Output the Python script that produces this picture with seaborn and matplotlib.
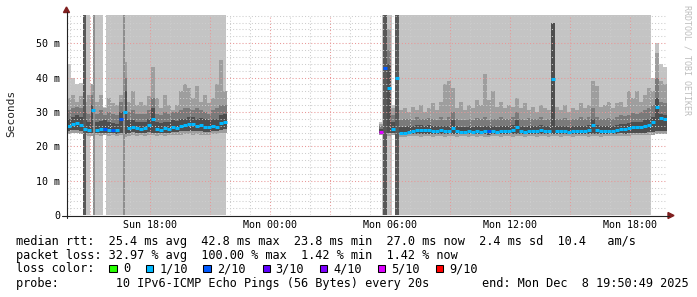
import matplotlib
matplotlib.use("Agg")
import numpy as np
import pandas as pd
import matplotlib.pyplot as plt
import matplotlib.dates as mdates
from matplotlib.ticker import MultipleLocator, FuncFormatter
from matplotlib.patches import Rectangle, Polygon
from matplotlib.lines import Line2D
import seaborn as sns

# ------------------------------------------------------------------ data
VIEW_START = "2025-12-07 13:50:49"
VIEW_END = "2025-12-08 19:50:49"
BIN = "12min"
Y_MAX = 58.2  # ms

LOSS_LABELS = ["0", "1/10", "2/10", "3/10", "4/10", "5/10", "9/10"]
LOSS_COLORS = ["#26ff00", "#00b8ff", "#0059ff", "#5e00ff", "#7e00ff", "#dd00ff", "#ff0000"]

# left block of data (Sun afternoon/evening)
LEFT_START = "2025-12-07 13:50:49"
left_median = [25.8, 26.5, 26.8, 26.2, 25.0, 24.8, 30.5, 24.8, 24.9, 25.0,
               24.8, 24.7, 24.6, 28.0, 30.0, 25.3, 25.5, 25.2, 25.0, 25.2,
               26.2, 28.0, 25.0, 24.8, 25.2, 25.0, 25.6, 25.4, 25.8, 26.2,
               26.4, 26.5, 26.0, 26.3, 25.7, 25.5, 25.9, 25.6, 26.8, 27.0]
left_loss = [1, 1, 1, 1, 1, 1, 1, 1, 1, 2,
             1, 2, 1, 2, 1, 1, 1, 1, 1, 1,
             1, 1, 1, 1, 1, 1, 1, 1, 1, 1,
             1, 1, 1, 1, 1, 1, 1, 1, 1, 1]
left_lo = [23.6, 23.8, 23.8, 23.6, 23.2, 23.0, 23.0, 23.2, 23.0, 23.2,
           23.0, 23.2, 23.0, 23.3, 22.8, 23.0, 23.4, 23.0, 23.2, 23.0,
           23.4, 23.2, 23.0, 23.2, 23.0, 23.3, 23.4, 23.2, 23.4, 23.5,
           23.6, 23.4, 23.6, 23.4, 23.2, 23.4, 23.6, 23.5, 23.8, 23.8]
left_dlo = [24.5, 24.8, 24.8, 24.5, 24.0, 23.8, 23.8, 24.0, 23.9, 24.0,
            23.8, 23.9, 23.7, 24.0, 23.6, 24.0, 24.1, 23.9, 23.9, 23.8,
            24.2, 24.0, 23.8, 23.9, 24.0, 24.0, 24.2, 24.1, 24.3, 24.4,
            24.5, 24.5, 24.4, 24.4, 24.2, 24.2, 24.4, 24.3, 24.8, 24.9]
left_dark = [28.0, 28.5, 29.0, 28.5, 27.5, 27.0, 32.0, 27.0, 27.3, 27.5,
             27.0, 26.8, 26.5, 30.0, 36.0, 27.5, 27.5, 27.0, 27.0, 27.0,
             28.0, 31.0, 27.0, 26.8, 27.0, 27.0, 27.5, 27.3, 27.8, 28.0,
             28.5, 28.5, 28.0, 28.3, 27.8, 27.5, 27.8, 27.8, 29.0, 29.5]
left_mid2 = [30.5, 31.0, 31.5, 31.0, 30.0, 29.5, 35.0, 29.5, 30.5, 29.0,
             30.0, 29.5, 29.0, 33.0, 40.0, 30.0, 30.5, 29.5, 29.5, 29.5,
             30.5, 34.0, 29.5, 29.0, 30.0, 29.5, 30.0, 30.0, 30.5, 31.0,
             31.0, 30.5, 31.0, 30.5, 30.0, 29.5, 30.5, 31.0, 32.0, 32.0]
left_mid = [34.0, 35.0, 33.0, 34.5, 33.0, 35.0, 38.0, 33.0, 35.0, 31.0,
            34.0, 32.5, 32.0, 35.0, 44.5, 33.0, 36.0, 32.0, 33.0, 32.0,
            34.5, 43.0, 34.0, 31.0, 35.0, 32.0, 30.5, 32.0, 36.0, 38.0,
            37.0, 34.0, 37.5, 33.0, 35.0, 32.5, 34.0, 38.0, 45.0, 36.0]
# outermost smoke band; None where a lost ping pushes it to the top
left_top = [44.0, 40.0, 38.0, 38.5, None, 38.0, 38.0, None, None, 31.5] + [None] * 30

# right block of data (Mon morning to evening)
RIGHT_START = "2025-12-08 05:26:49"
right_median = [24.1, 42.8, 37.0, 25.0, 40.0, 24.0, 24.0, 24.1, 24.3, 24.8,
                24.7, 24.6, 24.7, 24.5, 24.4, 24.6, 24.3, 24.5, 25.4, 24.3,
                24.2, 24.1, 24.4, 24.2, 24.3, 24.1, 24.5, 24.3, 24.4, 24.2,
                24.5, 24.3, 24.4, 24.6, 25.6, 24.4, 24.2, 24.5, 24.3, 24.4,
                24.6, 24.3, 24.4, 39.6, 24.4, 24.3, 24.5, 24.2, 24.4, 24.3,
                24.5, 24.4, 24.6, 26.2, 24.6, 24.4, 24.3, 24.5, 24.4, 24.8,
                25.0, 24.9, 25.2, 25.6, 25.5, 25.7, 26.0, 26.2, 27.0, 31.5,
                28.2, 27.9]
right_loss = [5, 2, 1, 1, 1, 1, 1, 1, 1, 1,
              1, 1, 1, 1, 1, 1, 1, 1, 1, 1,
              1, 1, 1, 1, 1, 1, 1, 2, 1, 1,
              1, 1, 1, 1, 1, 1, 1, 1, 1, 1,
              1, 1, 1, 1, 1, 1, 1, 1, 1, 1,
              1, 1, 1, 1, 1, 1, 1, 1, 1, 1,
              1, 1, 1, 1, 1, 1, 1, 1, 1, 1,
              1, 1]
right_lo = [23.4, 23.0, 23.0, 23.2, 23.0, 22.8, 22.8, 23.0, 22.9, 23.0,
            22.8, 23.0, 22.9, 22.8, 23.0, 22.9, 22.8, 23.0, 22.9, 22.8,
            23.0, 22.9, 22.7, 23.0, 22.8, 22.9, 22.8, 22.6, 22.9, 23.0,
            22.8, 22.9, 23.0, 22.8, 23.0, 22.9, 22.8, 23.0, 22.9, 22.8,
            23.0, 22.9, 22.8, 22.9, 23.0, 22.8, 22.9, 23.0, 22.8, 22.9,
            23.0, 22.9, 22.8, 23.0, 22.9, 22.8, 23.0, 22.9, 23.0, 23.0,
            23.1, 23.0, 23.1, 23.2, 23.2, 23.3, 23.3, 23.4, 23.4, 23.6,
            23.6, 23.5]
right_dlo = [23.8, 23.8, 23.8, 23.8, 23.8, 23.5, 23.5, 23.6, 23.6, 23.7,
             23.6, 23.7, 23.6, 23.6, 23.7, 23.6, 23.5, 23.7, 23.7, 23.5,
             23.6, 23.6, 23.5, 23.6, 23.5, 23.6, 23.6, 23.4, 23.6, 23.6,
             23.5, 23.6, 23.6, 23.5, 23.7, 23.6, 23.5, 23.6, 23.6, 23.5,
             23.6, 23.6, 23.5, 23.6, 23.6, 23.5, 23.6, 23.6, 23.5, 23.6,
             23.6, 23.6, 23.5, 23.7, 23.6, 23.5, 23.6, 23.6, 23.6, 23.7,
             23.8, 23.7, 23.8, 23.9, 23.9, 24.0, 24.0, 24.1, 24.2, 24.4,
             24.5, 24.4]
right_dark = [25.0, 50.0, 44.0, 27.0, 50.0, 25.6, 25.6, 25.8, 25.8, 26.3,
              26.2, 26.0, 26.2, 26.0, 25.8, 26.0, 25.8, 26.0, 27.5, 25.8,
              25.7, 25.6, 25.9, 25.7, 25.8, 25.6, 26.0, 25.8, 25.9, 25.7,
              26.0, 25.8, 25.9, 26.1, 27.5, 25.9, 25.7, 26.0, 25.8, 25.9,
              26.1, 25.8, 25.9, 56.0, 25.9, 25.8, 26.0, 25.7, 25.9, 25.8,
              26.0, 25.9, 26.1, 28.0, 26.1, 25.9, 25.8, 26.0, 25.9, 26.3,
              26.5, 26.4, 26.7, 27.1, 27.0, 27.2, 27.5, 27.8, 28.5, 34.0,
              29.5, 29.2]
right_mid2 = [26.0, 52.0, 48.0, 29.0, 52.0, 27.5, 27.8, 28.0, 27.5, 28.5,
              28.0, 27.8, 28.3, 28.0, 27.5, 28.5, 27.6, 28.5, 30.0, 27.8,
              27.5, 27.6, 28.0, 27.5, 28.2, 27.8, 28.5, 27.6, 28.0, 27.8,
              28.6, 28.0, 28.0, 28.5, 30.0, 28.0, 27.6, 28.2, 27.8, 28.0,
              28.4, 27.6, 28.0, 56.0, 28.0, 27.8, 28.3, 27.6, 28.0, 27.8,
              28.5, 28.0, 28.6, 31.0, 28.4, 28.0, 27.8, 28.3, 28.0, 28.6,
              29.0, 28.8, 29.2, 29.8, 29.5, 30.0, 30.5, 31.0, 32.0, 40.0,
              33.0, 32.5]
right_mid = [26.5, 55.0, 54.0, 31.0, 55.0, 30.5, 31.0, 30.0, 31.5, 30.5,
             32.0, 30.0, 31.0, 32.5, 30.5, 33.0, 38.0, 39.0, 37.0, 31.0,
             33.0, 30.5, 32.0, 31.0, 33.5, 32.0, 41.0, 33.5, 36.0, 31.5,
             33.0, 31.0, 32.0, 31.5, 34.0, 31.0, 32.5, 30.5, 31.5, 30.0,
             32.0, 31.0, 30.5, 56.0, 31.5, 30.5, 32.0, 30.0, 31.0, 30.5,
             32.5, 31.0, 32.0, 39.0, 37.5, 31.5, 32.0, 33.0, 31.0, 32.5,
             33.0, 31.5, 36.0, 34.0, 36.0, 33.0, 35.0, 37.0, 36.0, 47.0,
             39.0, 38.0]
right_top = [27.0, None, None, 32.0, None] + [None] * 63 + [40.0, 50.0, 44.0, 43.0]

# periods where lost pings push the smoke to the top of the graph
LOSS_SPANS = [
    ("2025-12-07 14:38:49", "2025-12-07 14:47:49", "dark"),
    ("2025-12-07 14:47:49", "2025-12-07 14:59:49", "light"),
    ("2025-12-07 15:08:49", "2025-12-07 15:14:49", "mid"),
    ("2025-12-07 15:14:49", "2025-12-07 15:38:49", "light"),
    ("2025-12-07 15:47:49", "2025-12-07 21:47:49", "light"),
    ("2025-12-07 16:38:49", "2025-12-07 16:44:49", "mid"),
    ("2025-12-08 05:35:49", "2025-12-08 05:38:49", "light"),
    ("2025-12-08 05:38:49", "2025-12-08 05:50:49", "dark"),
    ("2025-12-08 05:50:49", "2025-12-08 06:05:49", "light"),
    ("2025-12-08 06:14:49", "2025-12-08 06:26:49", "dark"),
    ("2025-12-08 06:26:49", "2025-12-08 19:02:49", "light"),
]

STAT_LINE_1 = "median rtt:  25.4 ms avg  42.8 ms max  23.8 ms min  27.0 ms now  2.4 ms sd  10.4   am/s"
STAT_LINE_2 = "packet loss: 32.97 % avg  100.00 % max  1.42 % min  1.42 % now"
LOSS_TITLE = "loss color:"
PROBE_LINE = "probe:        10 IPv6-ICMP Echo Pings (56 Bytes) every 20s"
END_LINE = "end: Mon Dec  8 19:50:49 2025"
Y_LABEL = "Seconds"
WATERMARK = "RRDTOOL / TOBI OETIKER"

# ------------------------------------------------------------------ style
W, H = 697, 297
SHADE = {"light": "#c4c4c4", "mid": "#8e8e8e", "dark": "#585858"}
C_TOP, C_MID, C_MID2, C_DARK = "#c4c4c4", "#9e9e9e", "#7a7a7a", "#4e4e4e"
MGRID, GRID = "#e89898", "#cdcdcd"

sns.set_theme(style="white")
plt.rcParams["font.family"] = ["DejaVu Sans Mono", "DejaVu Sans"]

fig = plt.figure(figsize=(W / 100, H / 100), dpi=100)
fig.patch.set_facecolor("white")
ax = fig.add_axes([67 / W, (H - 215) / H, 600 / W, 200 / H])
ax.set_facecolor("white")

for s, e, k in LOSS_SPANS:
    ax.axvspan(pd.Timestamp(s), pd.Timestamp(e), color=SHADE[k], lw=0,
               zorder=0.6 if k == "light" else 1.6)


def stepped(edges, vals):
    x = np.column_stack([edges[:-1], edges[1:]]).ravel()
    y = np.repeat(np.array([np.nan if v is None else v for v in vals], dtype=float), 2)
    return x, y


frames = []
for start, lo, dlo, dark, mid2, mid, top, med, loss in [
    (LEFT_START, left_lo, left_dlo, left_dark, left_mid2, left_mid, left_top, left_median, left_loss),
    (RIGHT_START, right_lo, right_dlo, right_dark, right_mid2, right_mid, right_top, right_median, right_loss),
]:
    n = len(med)
    edges = pd.date_range(start, periods=n + 1, freq=BIN).values
    x, ylo = stepped(edges, lo)
    _, ydlo = stepped(edges, dlo)
    for arr, col, z in [(top, C_TOP, 1.0), (mid, C_MID, 1.1)]:
        _, yy = stepped(edges, arr)
        ax.fill_between(x, ylo, yy, color=col, lw=0, zorder=z)
    for arr, col, z in [(mid2, C_MID2, 1.2), (dark, C_DARK, 1.3)]:
        _, yy = stepped(edges, arr)
        ax.fill_between(x, ydlo, yy, color=col, lw=0, zorder=z)
    centers = pd.date_range(start, periods=n, freq=BIN) + pd.Timedelta(minutes=6)
    frames.append(pd.DataFrame({"time": centers, "median": med,
                                "loss": [LOSS_LABELS[i] for i in loss]}))

med_df = pd.concat(frames, ignore_index=True)
sns.scatterplot(data=med_df, x="time", y="median", hue="loss",
                palette=dict(zip(LOSS_LABELS, LOSS_COLORS)), marker="_",
                s=11, linewidth=2.2, legend=False, ax=ax, zorder=3)

ax.set_xlim(pd.Timestamp(VIEW_START), pd.Timestamp(VIEW_END))
ax.set_ylim(0, Y_MAX)
ax.set_xlabel("")
ax.set_ylabel("")
ax.yaxis.set_major_locator(MultipleLocator(10))
ax.yaxis.set_minor_locator(MultipleLocator(2))
ax.yaxis.set_major_formatter(FuncFormatter(lambda v, p: "0" if abs(v) < 1e-9 else f"{v:.0f} m"))
ax.xaxis.set_major_locator(mdates.HourLocator(byhour=range(0, 24, 3)))
ax.xaxis.set_minor_locator(mdates.HourLocator())


def xfmt(v, p):
    d = mdates.num2date(v)
    return d.strftime("%a %H:%M") if d.hour % 6 == 0 else ""


ax.xaxis.set_major_formatter(FuncFormatter(xfmt))
ax.grid(True, which="major", color=MGRID, linestyle=(0, (1, 2)), linewidth=0.75)
ax.grid(True, which="minor", color=GRID, linestyle=(0, (1, 2)), linewidth=0.75)
ax.set_axisbelow(False)
ax.tick_params(axis="both", which="both", length=0, labelsize=7.2, colors="black")
ax.tick_params(axis="x", pad=3.6)
ax.tick_params(axis="y", pad=5.0)
for sp in ax.spines.values():
    sp.set_visible(False)


def fx(px):
    return px / W


def fy(py):
    return 1 - py / H


AXC = "#222222"
ARROW = "#7f1f1f"
fig.add_artist(Line2D([fx(66.5), fx(66.5)], [fy(218), fy(12)], color=AXC, lw=0.8,
                      transform=fig.transFigure))
fig.add_artist(Line2D([fx(62), fx(669)], [fy(215.5), fy(215.5)], color=AXC, lw=0.8,
                      transform=fig.transFigure))
fig.add_artist(Polygon([(fx(63.5), fy(12.5)), (fx(69.5), fy(12.5)), (fx(66.5), fy(7))],
                       closed=True, color=ARROW, transform=fig.transFigure))
fig.add_artist(Polygon([(fx(668), fy(212.5)), (fx(668), fy(218.5)), (fx(674), fy(215.5))],
                       closed=True, color=ARROW, transform=fig.transFigure))

TXT = dict(fontsize=8.6, color="black", va="center", ha="left")
fig.text(fx(16), fy(241), STAT_LINE_1, **TXT)
fig.text(fx(16), fy(255), STAT_LINE_2, **TXT)
fig.text(fx(16), fy(268.5), LOSS_TITLE, **TXT)
fig.text(fx(16), fy(283.5), PROBE_LINE, **TXT)
fig.text(fx(689), fy(283.5), END_LINE, fontsize=8.6, color="black", va="center", ha="right")

box_x = [109.3, 145.7, 203.3, 262.7, 320.0, 377.7, 436.0]
lab_x = [123.0, 159.5, 217.5, 275.5, 333.0, 391.0, 449.5]
for bx, lx, lab, col in zip(box_x, lab_x, LOSS_LABELS, LOSS_COLORS):
    fig.add_artist(Rectangle((fx(bx), fy(272.0)), 7.3 / W, 7.3 / H, facecolor=col,
                             edgecolor="black", linewidth=0.75, transform=fig.transFigure))
    fig.text(fx(lx), fy(268.5), lab, **TXT)

fig.text(fx(11), fy(113.5), Y_LABEL, rotation=90, fontsize=8.0, va="center", ha="center")
fig.text(fx(687.5), fy(60), WATERMARK, rotation=270, fontsize=6.0, color="#bdbdbd",
         va="center", ha="center")

fig.savefig("out.png", dpi=100, facecolor="white")
